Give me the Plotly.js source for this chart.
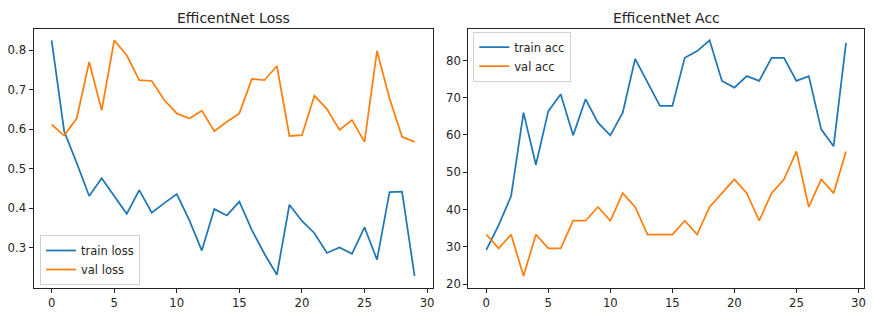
<!DOCTYPE html>
<html>
<head>
<meta charset="utf-8">
<script src="https://cdn.plot.ly/plotly-3.0.1.min.js"></script>
<style>html,body{margin:0;padding:0;background:#fff;}#chart{width:873px;height:319px;}</style>
</head>
<body>
<div id="chart"></div>
<script>
const epochs = Array.from({length: 30}, (_, i) => i);
const trainLoss = [0.825, 0.595, 0.515, 0.431, 0.476, 0.432, 0.386, 0.446, 0.389, 0.413,
                   0.436, 0.370, 0.293, 0.398, 0.382, 0.417, 0.345, 0.285, 0.232, 0.409,
                   0.368, 0.337, 0.287, 0.301, 0.285, 0.352, 0.270, 0.441, 0.442, 0.229];
const valLoss = [0.612, 0.584, 0.627, 0.770, 0.648, 0.825, 0.787, 0.724, 0.722, 0.674,
                 0.640, 0.627, 0.647, 0.595, 0.619, 0.640, 0.727, 0.724, 0.760, 0.583,
                 0.585, 0.685, 0.651, 0.598, 0.623, 0.568, 0.798, 0.678, 0.581, 0.568];
const trainAcc = [29.2, 35.8, 43.6, 66.0, 52.0, 66.4, 70.9, 59.9, 69.6, 63.3,
                  59.9, 66.0, 80.4, 74.0, 67.8, 67.8, 80.7, 82.5, 85.4, 74.5,
                  72.7, 75.8, 74.5, 80.7, 80.7, 74.5, 75.8, 61.5, 57.0, 84.7];
const valAcc = [33.3, 29.6, 33.3, 22.2, 33.3, 29.6, 29.6, 37.0, 37.0, 40.7,
                37.0, 44.4, 40.7, 33.3, 33.3, 33.3, 37.0, 33.3, 40.7, 44.4,
                48.1, 44.4, 37.0, 44.4, 48.1, 55.6, 40.7, 48.1, 44.4, 55.6];
const titles = ["EfficentNet Loss", "EfficentNet Acc"];
const seriesNames = ["train loss", "val loss", "train acc", "val acc"];
const xTicks = [0, 5, 10, 15, 20, 25, 30];

const BLUE = "#1f77b4", ORANGE = "#ff7f0e";
const FONT = "DejaVu Sans, sans-serif";
const lw = 1.75;

const traces = [
  {x: epochs, y: trainLoss, name: seriesNames[0], mode: "lines", line: {color: BLUE, width: lw}, xaxis: "x", yaxis: "y", legend: "legend"},
  {x: epochs, y: valLoss, name: seriesNames[1], mode: "lines", line: {color: ORANGE, width: lw}, xaxis: "x", yaxis: "y", legend: "legend"},
  {x: epochs, y: trainAcc, name: seriesNames[2], mode: "lines", line: {color: BLUE, width: lw}, xaxis: "x2", yaxis: "y2", legend: "legend2"},
  {x: epochs, y: valAcc, name: seriesNames[3], mode: "lines", line: {color: ORANGE, width: lw}, xaxis: "x2", yaxis: "y2", legend: "legend2"}
];

const W = 873, H = 319;
const axBase = {
  showgrid: false, zeroline: false, showline: true, mirror: true,
  linecolor: "#222", linewidth: 1, ticks: "outside", ticklen: 4, tickwidth: 1,
  tickcolor: "#222", tickfont: {family: FONT, size: 11.7, color: "#262626"}
};
const yDom = [(H - 287.7) / H, (H - 28.5) / H];
const legendFont = {family: FONT, size: 11.5, color: "#262626"};
const layout = {
  width: W, height: H,
  margin: {l: 0, r: 0, t: 0, b: 0},
  paper_bgcolor: "#fff", plot_bgcolor: "#fff",
  font: {family: FONT},
  xaxis: Object.assign({}, axBase, {domain: [33.5 / W, 432.7 / W], range: [-1.45, 30.45], tickvals: xTicks, anchor: "y"}),
  yaxis: Object.assign({}, axBase, {domain: yDom, range: [0.1992, 0.8548], tickvals: [0.3, 0.4, 0.5, 0.6, 0.7, 0.8], ticktext: ["0.3", "0.4", "0.5", "0.6", "0.7", "0.8"], anchor: "x"}),
  xaxis2: Object.assign({}, axBase, {domain: [468.3 / W, 864 / W], range: [-1.45, 30.45], tickvals: xTicks, anchor: "y2"}),
  yaxis2: Object.assign({}, axBase, {domain: yDom, range: [19.04, 88.56], tickvals: [20, 30, 40, 50, 60, 70, 80], anchor: "x2"}),
  legend: {x: 40 / W, y: (H - 285) / H, xanchor: "left", yanchor: "bottom", bgcolor: "rgba(255,255,255,0.8)", bordercolor: "#d0d0d0", borderwidth: 1, font: legendFont, itemwidth: 30, tracegroupgap: 0},
  legend2: {x: 473.3 / W, y: (H - 31.5) / H, xanchor: "left", yanchor: "top", bgcolor: "rgba(255,255,255,0.8)", bordercolor: "#d0d0d0", borderwidth: 1, font: legendFont, itemwidth: 30, tracegroupgap: 0},
  showlegend: true,
  annotations: [
    {text: titles[0], xref: "paper", yref: "paper", x: (33.5 + 432.7) / 2 / W, y: (H - 17.5) / H, xanchor: "center", yanchor: "middle", showarrow: false, font: {family: FONT, size: 14, color: "#262626"}},
    {text: titles[1], xref: "paper", yref: "paper", x: (468.3 + 864) / 2 / W, y: (H - 17.5) / H, xanchor: "center", yanchor: "middle", showarrow: false, font: {family: FONT, size: 14, color: "#262626"}}
  ]
};
Plotly.newPlot("chart", traces, layout, {staticPlot: true, displayModeBar: false});
</script>
</body>
</html>
